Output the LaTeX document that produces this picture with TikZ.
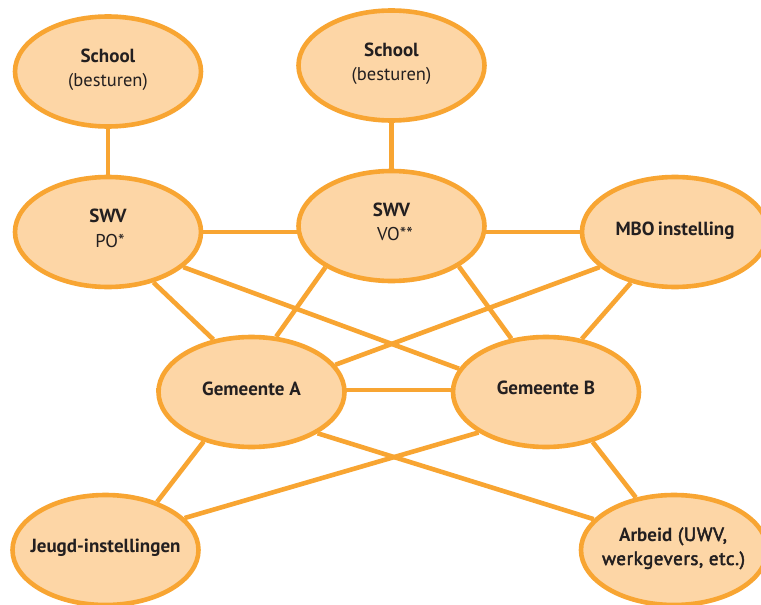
\documentclass[tikz,border=0pt]{standalone}
\usepackage{fontspec}
\setmainfont{PT Sans}
\newfontfamily\semibfont[FakeBold=2.5,LetterSpace=3]{PT Sans}
\usetikzlibrary{shapes.geometric,backgrounds}
\definecolor{bubblefill}{HTML}{FDD6A6}
\definecolor{bubbleline}{HTML}{F8A532}
\definecolor{inktext}{HTML}{231F20}
\begin{document}
\begin{tikzpicture}[x=1pt,y=-1pt,
  bubble/.style={ellipse, draw=bubbleline, fill=bubblefill, line width=4.6pt,
    minimum width=186pt, minimum height=110pt, inner sep=0pt},
  link/.style={draw=bubbleline, line width=4.6pt},
  boldtxt/.style={font=\fontsize{19}{22}\selectfont\bfseries, text=inktext, anchor=base, inner sep=0pt},
  plaintxt/.style={font=\fontsize{18.5}{22}\selectfont, text=inktext, anchor=base, inner sep=0pt},
  semitxt/.style={font=\fontsize{19}{22}\selectfont\semibfont, text=inktext, anchor=base, inner sep=0pt}]
\useasboundingbox (0,0) rectangle (761,605);
% ellipses
\node[bubble] (SL) at (108,71.5) {};
\node[bubble] (SR) at (391.5,65.5) {};
\node[bubble] (PO) at (108,232) {};
\node[bubble] (VO) at (391.5,226) {};
\node[bubble] (MBO) at (675,232) {};
\node[bubble] (GA) at (251.5,392) {};
\node[bubble] (GB) at (546,392) {};
\node[bubble] (J) at (105.5,550) {};
\node[bubble] (AR) at (674,550) {};
% texts
\node[boldtxt] (SLa) at (108,62.5) {School};
\node[plaintxt] (SLb) at (108,86) {(besturen)};
\node[boldtxt] (SRa) at (391.5,56.5) {School};
\node[plaintxt] (SRb) at (391.5,80) {(besturen)};
\node[boldtxt] (POa) at (108,222) {SWV};
\node[plaintxt] (POb) at (110,247) {PO*};
\node[boldtxt] (VOa) at (391.5,216.5) {SWV};
\node[plaintxt] (VOb) at (395,240) {VO**};
\node[boldtxt] (MBOt) at (675,235) {MBO\hspace{-1.5pt} instelling};
\node[boldtxt] (GAt) at (251.5,395) {Gemeente A};
\node[boldtxt] (GBt) at (546,394.5) {Gemeente B};
\node[boldtxt] (Jt) at (105.5,552) {Jeugd-instellingen};
\node[semitxt] (ARa) at (673,541) {{\normalfont\bfseries Arbeid} (UWV,};
\node[semitxt] (ARb) at (673.5,565) {werkgevers, etc.)};
% connectors
\begin{scope}[on background layer]
\fill[white] (0,0) rectangle (761,605);
\draw[link] (SL.-90) -- (PO.90);
\draw[link] (SR.-90) -- (VO.90);
\draw[link] (PO.center) -- (PO.center -| VO.center);
\draw[link] (MBO.center) -- (MBO.center -| VO.center);
\draw[link] (PO.-48.7) -- (GA.126);
\draw[link] (PO.-25.9) -- (GB.165.6);
\draw[link] (VO.-148.3) -- (GA.66.9);
\draw[link] (VO.-31.7) -- (GB.123.7);
\draw[link] (MBO.-155) -- (GA.18.7);
\draw[link] (MBO.-131.4) -- (GB.56.3);
\draw[link] (GA.west |- 0,390) -- (GB.east |- 0,390);
\draw[link] (GA.-134.7) -- (J.43.6);
\draw[link] (GA.-32) -- (AR.159.9);
\draw[link] (GB.-149.5) -- (J.22.5);
\draw[link] (GB.-47.4) -- (AR.126.4);
\end{scope}
\end{tikzpicture}
\end{document}
